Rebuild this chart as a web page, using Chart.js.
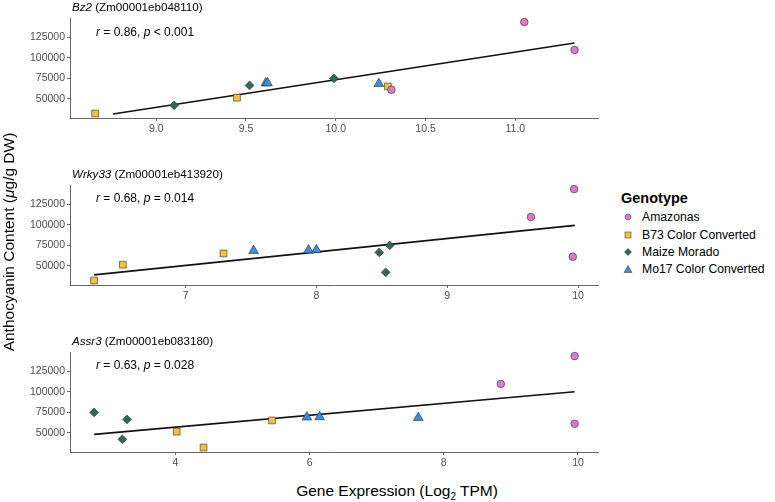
<!DOCTYPE html>
<html>
<head>
<meta charset="utf-8">
<script src="https://cdn.jsdelivr.net/npm/chart.js@4.4.1/dist/chart.umd.min.js"></script>
<style>
  body { margin: 0; background: #fff; font-family: "Liberation Sans", Arial, sans-serif; }
  #wrap { position: relative; width: 775px; height: 502px; overflow: hidden; background: #fff; }
  #wrap canvas { position: absolute; left: 0; }
  .txt { position: absolute; white-space: nowrap; line-height: 1; color: #000; }
  .gene { font-size: 11.6px; left: 72px; }
  .stat { font-size: 12px; left: 96px; }
  .legend { position: absolute; left: 621px; top: 191px; }
  .legend .head { font-size: 14.5px; font-weight: bold; line-height: 1; margin-bottom: 3px; }
  .legend .row { display: flex; align-items: center; height: 17.4px; font-size: 12.2px; margin-left: 2px; }
  .legend svg { width: 10px; height: 10px; margin-right: 9px; }
  #ytitle { position: absolute; left: 0; top: 100px; }
</style>
</head>
<body>
<div id="wrap">
  <canvas id="c1"></canvas>
  <canvas id="c2"></canvas>
  <canvas id="c3"></canvas>

  <div class="txt gene" style="top:1px"><i>Bz2</i> (Zm00001eb048110)</div>
  <div class="txt gene" style="top:168px"><i>Wrky33</i> (Zm00001eb413920)</div>
  <div class="txt gene" style="top:334.5px"><i>Assr3</i> (Zm00001eb083180)</div>

  <div class="txt stat" style="top:25.5px"><i>r</i> = 0.86, <i>p</i> &lt; 0.001</div>
  <div class="txt stat" style="top:192px"><i>r</i> = 0.68, <i>p</i> = 0.014</div>
  <div class="txt stat" style="top:359px"><i>r</i> = 0.63, <i>p</i> = 0.028</div>

  <svg id="ytitle" width="20" height="290" viewBox="0 0 20 290">
    <text transform="translate(13.5,142) rotate(-90)" text-anchor="middle" font-family="Liberation Sans, Arial, sans-serif" font-size="15.5" fill="#000">Anthocyanin Content (<tspan font-style="italic">μ</tspan>g/g DW)</text>
  </svg>
  <div class="txt" style="font-size:15.5px;left:397px;top:483px;transform:translateX(-50%);">Gene Expression (Log<sub style="font-size:10px">2</sub> TPM)</div>

  <div class="legend">
    <div class="head">Genotype</div>
    <div class="row"><svg viewBox="0 0 10 10"><circle cx="5" cy="5" r="3" fill="#DA7BCB" stroke="#444" stroke-width="0.6"/></svg>Amazonas</div>
    <div class="row"><svg viewBox="0 0 10 10"><rect x="2" y="2" width="6" height="6" fill="#F4C13A" stroke="#444" stroke-width="0.6"/></svg>B73 Color Converted</div>
    <div class="row"><svg viewBox="0 0 10 10"><polygon points="5,1.5 8.5,5 5,8.5 1.5,5" fill="#2F6A55" stroke="#444" stroke-width="0.6"/></svg>Maize Morado</div>
    <div class="row"><svg viewBox="0 0 10 10"><polygon points="5,1.5 9,8.5 1,8.5" fill="#3B8FDC" stroke="#444" stroke-width="0.6"/></svg>Mo17 Color Converted</div>
  </div>
</div>

<script>
// genotypes and anthocyanin content (ug/g DW), three plants each
const genotypes = ['Amazonas', 'B73 Color Converted', 'Maize Morado', 'Mo17 Color Converted'];
const anthoAmazonas = [143500, 109500, 61000];
const anthoB73 = [32000, 51300, 65000];
const anthoMorado = [42000, 66300, 74800];
const anthoMo17 = [68400, 69000, 69300];

// expression, log2 TPM, same plant order as above
const bz2Amazonas = [11.05, 11.33, 10.31];
const bz2B73 = [8.66, 9.45, 10.29];
const bz2Morado = [9.10, 9.52, 9.99];
const bz2Mo17 = [10.24, 9.61, 9.62];

const wrkyAmazonas = [9.97, 9.64, 9.96];
const wrkyB73 = [6.30, 6.52, 7.29];
const wrkyMorado = [8.53, 8.48, 8.56];
const wrkyMo17 = [7.52, 7.94, 8.00];

const assrAmazonas = [9.95, 8.85, 9.95];
const assrB73 = [4.42, 4.02, 5.44];
const assrMorado = [3.21, 3.28, 2.79];
const assrMo17 = [7.62, 5.96, 6.15];

// fitted lines (ends)
const bz2FitX = [8.76, 11.33];
const bz2FitY = [31400, 118100];
const wrkyFitX = [6.30, 9.975];
const wrkyFitY = [38800, 99200];
const assrFitX = [2.79, 9.95];
const assrFitY = [48000, 100000];

// axes
const yRange = [26500, 148500];
const yTicks = [50000, 75000, 100000, 125000];
const bz2XRange = [8.52, 11.465];
const bz2XTicks = [9.0, 9.5, 10.0, 10.5, 11.0];
const wrkyXRange = [6.116, 10.159];
const wrkyXTicks = [7, 8, 9, 10];
const assrXRange = [2.43, 10.31];
const assrXTicks = [4, 6, 8, 10];

const colors = ['#DA7BCB', '#F4C13A', '#2F6A55', '#3B8FDC'];
const shapes = ['circle', 'rect', 'rectRot', 'triangle'];
const radii = [3.8, 4.8, 4.4, 5.6];
const anthos = [anthoAmazonas, anthoB73, anthoMorado, anthoMo17];

Chart.defaults.font.family = '"Liberation Sans", Arial, sans-serif';

function drawPanel(id, top, xRange, xTicks, dec, xs, fitX, fitY) {
  var canvas = document.getElementById(id);
  canvas.width = 605;
  canvas.height = 100 + 10 + 25;
  canvas.style.top = (top - 10) + 'px';

  var datasets = genotypes.map(function (g, i) {
    return {
      type: 'scatter',
      label: g,
      data: xs[i].map(function (v, j) { return { x: v, y: anthos[i][j] }; }),
      pointStyle: shapes[i],
      pointRadius: radii[i],
      pointBackgroundColor: colors[i],
      pointBorderColor: '#2b2b2b',
      pointBorderWidth: 0.6,
      order: 0
    };
  });
  datasets.push({
    type: 'line',
    label: 'fit',
    data: fitX.map(function (v, j) { return { x: v, y: fitY[j] }; }),
    borderColor: '#111',
    borderWidth: 1.6,
    pointRadius: 0,
    fill: false,
    order: 1
  });

  var axisCommon = {
    type: 'linear',
    border: { display: true, color: '#666', width: 1 },
    grid: { display: true, drawOnChartArea: false, drawTicks: true, tickLength: 3, tickColor: '#666' },
  };

  new Chart(canvas.getContext('2d'), {
    type: 'scatter',
    data: { datasets: datasets },
    options: {
      responsive: false,
      animation: false,
      clip: false,
      layout: { padding: { top: 10, right: 5, left: 0, bottom: 0 } },
      plugins: { legend: { display: false }, tooltip: { enabled: false } },
      scales: {
        x: Object.assign({}, axisCommon, {
          min: xRange[0], max: xRange[1],
          afterBuildTicks: function (s) { s.ticks = xTicks.map(function (v) { return { value: v }; }); },
          afterFit: function (s) { s.height = 25; },
          ticks: {
            color: '#4d4d4d', font: { size: 10.5 }, padding: 2, maxRotation: 0, autoSkip: false,
            callback: function (v) { return Number(v).toFixed(dec); }
          }
        }),
        y: Object.assign({}, axisCommon, {
          min: yRange[0], max: yRange[1],
          afterBuildTicks: function (s) { s.ticks = yTicks.map(function (v) { return { value: v }; }); },
          afterFit: function (s) { s.width = 70; },
          ticks: {
            color: '#4d4d4d', font: { size: 10.5 }, padding: 2, autoSkip: false,
            callback: function (v) { return String(v); }
          }
        })
      }
    }
  });
}

drawPanel('c1', 18, bz2XRange, bz2XTicks, 1, [bz2Amazonas, bz2B73, bz2Morado, bz2Mo17], bz2FitX, bz2FitY);
drawPanel('c2', 185, wrkyXRange, wrkyXTicks, 0, [wrkyAmazonas, wrkyB73, wrkyMorado, wrkyMo17], wrkyFitX, wrkyFitY);
drawPanel('c3', 352, assrXRange, assrXTicks, 0, [assrAmazonas, assrB73, assrMorado, assrMo17], assrFitX, assrFitY);
</script>
</body>
</html>
